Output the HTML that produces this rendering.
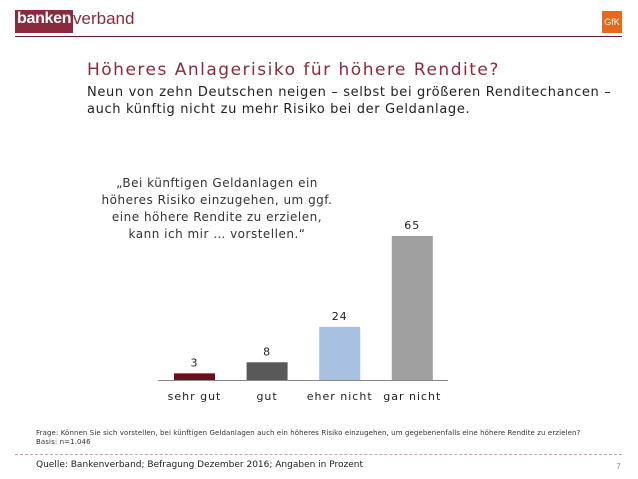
<!DOCTYPE html>
<html><head><meta charset="utf-8"><style>
body{margin:0;width:638px;height:479px;background:#fff;font-family:"DejaVu Sans","Liberation Sans",sans-serif;position:relative;overflow:hidden}
.a{position:absolute;white-space:nowrap}
</style></head><body>
<div class="a" style="left:15px;top:10px;width:56px;height:23px;background:#8b2a3e;color:#fff;font:bold 16px 'Liberation Sans',sans-serif;line-height:17px;padding-left:2px;letter-spacing:-0.3px">banken</div>
<div class="a" style="left:73px;top:9px;color:#8b2a3e;font:17px 'Liberation Sans',sans-serif">verband</div>
<div class="a" style="left:602px;top:11px;width:20px;height:22px;background:#e8691e;color:#fff;font:9px 'Liberation Sans',sans-serif;line-height:22px;text-align:center">GfK</div>
<div class="a" style="left:15px;top:36px;width:607px;height:1px;background:#6b1a2a"></div>
<div class="a" style="left:87px;top:60px;font-size:17px;color:#8b2a3e;letter-spacing:1.5px">Höheres Anlagerisiko für höhere Rendite?</div>
<div class="a" style="left:87px;top:84px;font-size:13px;color:#222;line-height:17px;letter-spacing:0.65px">Neun von zehn Deutschen neigen – selbst bei größeren Renditechancen –<br>auch künftig nicht zu mehr Risiko bei der Geldanlage.</div>
<div class="a" style="left:97px;top:175px;width:240px;text-align:center;font-size:12px;line-height:17px;color:#333;letter-spacing:0.5px">„Bei künftigen Geldanlagen ein<br>höheres Risiko einzugehen, um ggf.<br>eine höhere Rendite zu erzielen,<br>kann ich mir … vorstellen.“</div>
<svg class="a" style="left:0;top:0" width="638" height="479">
<g id="g" font-family="DejaVu Sans,Liberation Sans,sans-serif" font-size="11" fill="#222" letter-spacing="1"></g>
<line x1="158" y1="380.5" x2="448" y2="380.5" stroke="#888"/>
</svg>
<div class="a" style="left:36px;top:429px;font-size:7px;color:#333;line-height:9px;letter-spacing:0.1px">Frage: Können Sie sich vorstellen, bei künftigen Geldanlagen auch ein höheres Risiko einzugehen, um gegebenenfalls eine höhere Rendite zu erzielen?<br>Basis: n=1.046</div>
<div class="a" style="left:15px;top:454px;width:607px;border-top:1px dashed #c9a0a8"></div>
<div class="a" style="left:36px;top:460px;font-size:9px;color:#222">Quelle: Bankenverband; Befragung Dezember 2016; Angaben in Prozent</div>
<div class="a" style="left:616px;top:462px;font-size:8px;color:#999">7</div>
<script>
const categories=["sehr gut","gut","eher nicht","gar nicht"];
const values=[3,8,24,65];
const colors=["#6b0f1e","#595959","#a8c0e2","#a0a0a0"];
const base=380,scale=2.215,x0=194.5,step=72.6,bw=41;
const xs=i=>x0+i*step, ys=v=>base-v*scale;
const g=document.getElementById('g'),NS="http://www.w3.org/2000/svg";
categories.forEach((c,i)=>{
 const r=document.createElementNS(NS,'rect');
 r.setAttribute('x',xs(i)-bw/2);r.setAttribute('y',ys(values[i]));
 r.setAttribute('width',bw);r.setAttribute('height',base-ys(values[i]));
 r.setAttribute('fill',colors[i]);
 
 
 g.appendChild(r);
 const t=document.createElementNS(NS,'text');
 t.setAttribute('x',xs(i));t.setAttribute('y',ys(values[i])-7);
 t.setAttribute('text-anchor','middle');t.textContent=values[i];
 
 
 g.appendChild(t);
 const l=document.createElementNS(NS,'text');
 l.setAttribute('x',xs(i));l.setAttribute('y',400);
 l.setAttribute('text-anchor','middle');l.textContent=c;
 
 
 g.appendChild(l);
});
</script>
</body></html>
